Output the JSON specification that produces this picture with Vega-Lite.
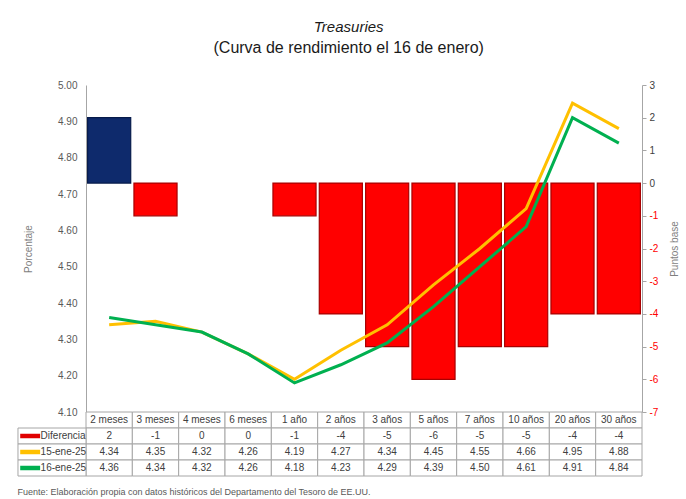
{
  "$schema": "https://vega.github.io/schema/vega-lite/v6.json",
  "background": "white",
  "padding": {"top": 20, "left": 17, "right": 2, "bottom": 2},
  "bounds": "flush",
  "spacing": 0,
  "title": {
    "text": "Treasuries",
    "subtitle": "(Curva de rendimiento el 16 de enero)",
    "font": "Liberation Sans",
    "fontSize": 15,
    "fontStyle": "italic",
    "fontWeight": "normal",
    "color": "#1a1a1a",
    "subtitleFont": "Liberation Sans",
    "subtitleFontSize": 16,
    "subtitleColor": "#1a1a1a",
    "subtitlePadding": 5,
    "anchor": "middle",
    "offset": 24
  },
  "data": {
    "values": [
      {"cat": "2 meses", "Diferencia": 2, "15-ene-25": 4.34, "16-ene-25": 4.36},
      {"cat": "3 meses", "Diferencia": -1, "15-ene-25": 4.35, "16-ene-25": 4.34},
      {"cat": "4 meses", "Diferencia": 0, "15-ene-25": 4.32, "16-ene-25": 4.32},
      {"cat": "6 meses", "Diferencia": 0, "15-ene-25": 4.26, "16-ene-25": 4.26},
      {"cat": "1 año", "Diferencia": -1, "15-ene-25": 4.19, "16-ene-25": 4.18},
      {"cat": "2 años", "Diferencia": -4, "15-ene-25": 4.27, "16-ene-25": 4.23},
      {"cat": "3 años", "Diferencia": -5, "15-ene-25": 4.34, "16-ene-25": 4.29},
      {"cat": "5 años", "Diferencia": -6, "15-ene-25": 4.45, "16-ene-25": 4.39},
      {"cat": "7 años", "Diferencia": -5, "15-ene-25": 4.55, "16-ene-25": 4.50},
      {"cat": "10 años", "Diferencia": -5, "15-ene-25": 4.66, "16-ene-25": 4.61},
      {"cat": "20 años", "Diferencia": -4, "15-ene-25": 4.95, "16-ene-25": 4.91},
      {"cat": "30 años", "Diferencia": -4, "15-ene-25": 4.88, "16-ene-25": 4.84}
    ]
  },
  "vconcat": [
    {
      "width": 556,
      "height": 327,
      "layer": [
        {
          "transform": [{"filter": "datum['Diferencia'] != 0"}],
          "mark": {"type": "bar", "strokeWidth": 1.2},
          "encoding": {
            "x": {
              "field": "cat", "type": "nominal",
              "scale": {"domain": ["2 meses","3 meses","4 meses","6 meses","1 año","2 años","3 años","5 años","7 años","10 años","20 años","30 años"], "paddingInner": 0.07, "paddingOuter": 0.035},
              "axis": null
            },
            "y": {
              "field": "Diferencia", "type": "quantitative",
              "scale": {"domain": [-7, 3], "nice": false},
              "axis": {
                "orient": "right",
                "values": [-7, -6, -5, -4, -3, -2, -1, 0, 1, 2, 3],
                "labelExpr": "'' + datum.value",
                "title": "Puntos base",
                "titleAngle": 270,
                "titleFontSize": 10,
                "titleFontWeight": "normal",
                "titleColor": "#7f7f7f",
                "titlePadding": 22,
                "labelFontSize": 10,
                "labelColor": {"condition": {"test": "datum.value < 0", "value": "#ff0000"}, "value": "#404040"},
                "labelPadding": 3,
                "tickSize": 4,
                "tickColor": "#a6a6a6",
                "domainColor": "#a6a6a6",
                "grid": false
              }
            },
            "color": {"condition": {"test": "datum['Diferencia'] > 0", "value": "#0e2a6c"}, "value": "#ff0000"},
            "stroke": {"condition": {"test": "datum['Diferencia'] > 0", "value": "#061a4a"}, "value": "#a80000"}
          }
        },
        {
          "transform": [{"fold": ["15-ene-25", "16-ene-25"], "as": ["serie", "valor"]}],
          "mark": {"type": "line", "strokeWidth": 3},
          "encoding": {
            "x": {"field": "cat", "type": "nominal", "axis": null},
            "y": {
              "field": "valor", "type": "quantitative",
              "scale": {"domain": [4.1, 5.0], "nice": false, "zero": false},
              "axis": {
                "orient": "left",
                "values": [4.1, 4.2, 4.3, 4.4, 4.5, 4.6, 4.7, 4.8, 4.9, 5.0],
                "format": ".2f",
                "title": "Porcentaje",
                "titleFontSize": 10,
                "titleFontWeight": "normal",
                "titleColor": "#7f7f7f",
                "titlePadding": 24,
                "labelFontSize": 10,
                "labelColor": "#595959",
                "labelPadding": 9,
                "ticks": false,
                "domainColor": "#a6a6a6",
                "grid": false
              }
            },
            "color": {
              "field": "serie", "type": "nominal",
              "scale": {"domain": ["15-ene-25", "16-ene-25"], "range": ["#ffc000", "#00b050"]},
              "legend": null
            }
          }
        }
      ],
      "resolve": {"scale": {"y": "independent"}}
    },
    {
      "width": 556,
      "height": 64,
      "title": {
        "text": "Fuente: Elaboración propia con datos históricos del Departamento del Tesoro de EE.UU.",
        "orient": "bottom",
        "anchor": "start",
        "frame": "bounds",
        "font": "Liberation Sans",
        "fontSize": 9,
        "fontWeight": "normal",
        "color": "#595959",
        "offset": 11
      },
      "layer": [
        {
          "layer": [
            {
              "transform": [{"fold": ["cat", "Diferencia", "15-ene-25", "16-ene-25"], "as": ["fila", "v"]}],
              "mark": {"type": "rect", "fill": "white", "stroke": "#a6a6a6", "strokeWidth": 1},
              "encoding": {
                "x": {
                  "field": "cat", "type": "nominal",
                  "scale": {"domain": ["2 meses","3 meses","4 meses","6 meses","1 año","2 años","3 años","5 años","7 años","10 años","20 años","30 años"], "paddingInner": 0, "paddingOuter": 0},
                  "axis": null
                },
                "y": {
                  "field": "fila", "type": "nominal",
                  "scale": {"domain": ["cat", "Diferencia", "15-ene-25", "16-ene-25"], "paddingInner": 0, "paddingOuter": 0},
                  "axis": null
                }
              }
            },
            {
              "mark": {"type": "text", "font": "Liberation Sans", "fontSize": 10, "color": "#404040"},
              "encoding": {
                "x": {"field": "cat", "type": "nominal", "bandPosition": 0.5},
                "y": {"datum": "cat", "type": "nominal", "bandPosition": 0.5},
                "text": {"field": "cat", "type": "nominal"}
              }
            },
            {
              "mark": {"type": "text", "font": "Liberation Sans", "fontSize": 10, "color": "#404040"},
              "encoding": {
                "x": {"field": "cat", "type": "nominal", "bandPosition": 0.5},
                "y": {"datum": "Diferencia", "type": "nominal", "bandPosition": 0.5},
                "text": {"field": "Diferencia", "type": "nominal"}
              }
            },
            {
              "transform": [{"fold": ["15-ene-25", "16-ene-25"], "as": ["fila", "v"]}],
              "mark": {"type": "text", "font": "Liberation Sans", "fontSize": 10, "color": "#404040"},
              "encoding": {
                "x": {"field": "cat", "type": "nominal", "bandPosition": 0.5},
                "y": {"field": "fila", "type": "nominal", "bandPosition": 0.5},
                "text": {"field": "v", "type": "quantitative", "format": ".2f"}
              }
            }
          ]
        },
        {
          "data": {"values": [{"row": "Diferencia"}, {"row": "15-ene-25"}, {"row": "16-ene-25"}]},
          "layer": [
            {
              "mark": {"type": "rect", "fill": "white", "stroke": "#a6a6a6", "strokeWidth": 1},
              "encoding": {
                "x": {"datum": -1.468, "type": "quantitative", "scale": {"domain": [0, 12], "nice": false, "zero": false}, "axis": null},
                "x2": {"datum": 0},
                "y": {"field": "row", "type": "nominal"}
              }
            },
            {
              "mark": {"type": "rule", "strokeWidth": 4.5},
              "encoding": {
                "x": {"datum": -1.42, "type": "quantitative"},
                "x2": {"datum": -0.99},
                "y": {"field": "row", "type": "nominal", "bandPosition": 0.5},
                "color": {
                  "field": "row", "type": "nominal",
                  "scale": {"domain": ["Diferencia", "15-ene-25", "16-ene-25"], "range": ["#e00000", "#ffc000", "#00b050"]},
                  "legend": null
                }
              }
            },
            {
              "mark": {"type": "text", "align": "left", "font": "Liberation Sans", "fontSize": 10, "color": "#404040"},
              "encoding": {
                "x": {"datum": -0.98, "type": "quantitative"},
                "y": {"field": "row", "type": "nominal", "bandPosition": 0.5},
                "text": {"field": "row", "type": "nominal"}
              }
            }
          ]
        }
      ],
      "resolve": {"scale": {"x": "independent", "color": "independent"}}
    }
  ],
  "config": {
    "view": {"stroke": null},
    "axis": {"labelFont": "Liberation Sans", "titleFont": "Liberation Sans", "grid": false}
  }
}
